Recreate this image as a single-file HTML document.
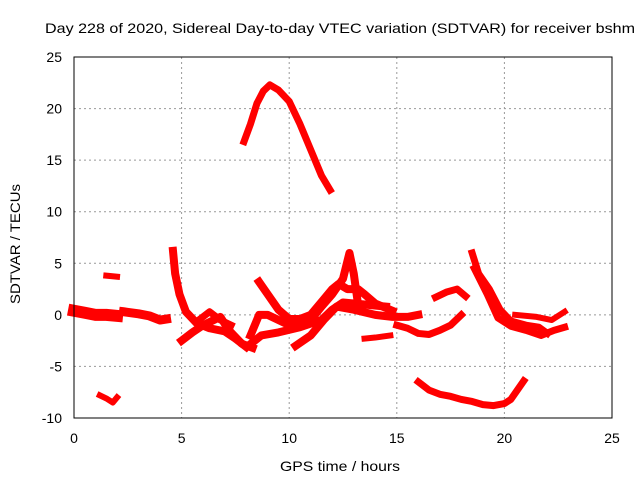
<!DOCTYPE html>
<html><head><meta charset="utf-8"><style>
body{margin:0;background:#fff;}
svg{display:block;font-family:"Liberation Sans",sans-serif;}
</style></head><body>
<svg id="chart" width="640" height="480">
<text x="45" y="33" font-size="14" textLength="590" lengthAdjust="spacingAndGlyphs">Day 228 of 2020, Sidereal Day-to-day VTEC variation (SDTVAR) for receiver bshm</text>
<text x="280" y="471" font-size="14" textLength="120" lengthAdjust="spacingAndGlyphs">GPS time / hours</text>
<text transform="translate(20,244) rotate(-90)" font-size="14" text-anchor="middle" textLength="120" lengthAdjust="spacingAndGlyphs">SDTVAR / TECUs</text>
<g id="grid"></g><g id="marks"></g>
<rect x="74" y="57" width="538" height="361" fill="none" stroke="#000" stroke-width="1"/>
</svg>
<script>
const xTicks=[0,5,10,15,20,25];
const yTicks=[-10,-5,0,5,10,15,20,25];
const arcTop=[[7.9,16.8],[8.2,18.5],[8.5,20.5],[8.8,21.7],[9.1,22.3],[9.5,21.8],[10,20.7],[10.5,18.5],[11,16],[11.5,13.5],[11.9,12.1]];
const lowLeft=[[1.2,-7.8],[1.5,-8.1],[1.8,-8.5],[2.0,-8.0]];
const highLeft=[[1.5,3.8],[2.0,3.7]];
const startA=[[0,0.4],[0.5,0.2],[1,0.0],[1.5,0.0],[2,-0.1]];
const startB=[[2.3,0.3],[3,0.1],[3.5,-0.1],[4,-0.5],[4.3,-0.4]];
const s6=[[4.6,6.2],[4.7,4],[4.9,2],[5.2,0.3],[5.7,-0.8],[6.3,-1.3],[7,-1.6],[7.5,-2.3],[8,-3.1]];
const s7=[[5,-2.5],[5.5,-1.7],[6,-1],[6.5,-0.5],[6.8,-0.2],[7.2,-1.5],[7.8,-2.8],[8.3,-3.2]];
const s8=[[5.8,-0.5],[6.3,0.3],[6.8,-0.5],[7.3,-1.0]];
const s9=[[8.1,-3.0],[8.7,-2.0],[9.5,-1.7],[10.5,-1.2],[11.5,-0.5],[12,0.5],[12.5,1.2],[13.5,1.0],[14.5,0.8]];
const s10=[[8.2,-2.0],[8.6,0],[9,0],[9.5,-0.5],[10,-1],[10.5,-0.8],[11,-0.5],[11.5,0.8],[12,2],[12.5,3.5],[12.8,6],[13,4],[13.2,1]];
const s11=[[8.6,3.2],[9,2],[9.5,0.5],[10,-0.4],[10.5,-0.4],[11,0],[11.6,1.5],[12,2.5],[12.3,3],[12.7,2.5],[13.2,2.5],[13.5,2],[14,1.1],[14.8,0.4]];
const s12=[[10.3,-3.0],[11,-2],[11.6,-0.5],[12.2,0.8],[13,0.5],[14,0],[14.8,-0.2],[15.5,-0.2],[16,0]];
const s13=[[13.5,-2.3],[14,-2.2],[14.7,-2.0]];
const s14=[[15,-1],[15.5,-1.3],[16,-1.8],[16.5,-1.9],[17,-1.5],[17.5,-1.0],[18,0]];
const s15=[[16.8,1.7],[17.3,2.2],[17.8,2.5],[18.2,1.8]];
const s16=[[18.5,6],[18.8,4],[19.3,2.5],[19.8,0.5],[20.3,-0.6],[21,-1.0],[21.6,-1.2],[22,-1.8]];
const s17=[[18.6,4.5],[19.2,2],[19.7,-0.3],[20.3,-1.1],[21,-1.5],[21.7,-2.0],[22.3,-1.5],[22.8,-1.2]];
const s18=[[20.5,0],[21.5,-0.2],[22.2,-0.5],[22.8,0.3]];
const s19=[[16,-6.5],[16.5,-7.3],[17,-7.7],[17.5,-7.9],[18,-8.2],[18.5,-8.4],[19,-8.7],[19.5,-8.8],[20,-8.6],[20.3,-8.2],[20.6,-7.3],[20.9,-6.4]];
const seriesList=[arcTop,lowLeft,highLeft,startA,startB,s6,s7,s8,s9,s10,s11,s12,s13,s14,s15,s16,s17,s18,s19];
const widths=[7,6,6,12,9,8,8,7,8,8,8,8,6,7,7,7,7,6,7];
const X=h=>74+h*538/25, Y=v=>57+(25-v)*361/35;
const NS="http://www.w3.org/2000/svg";
const svg=document.getElementById('chart'),grid=document.getElementById('grid'),marks=document.getElementById('marks');
xTicks.forEach(t=>{
 if(t>0&&t<25){const l=document.createElementNS(NS,'line');l.setAttribute('x1',X(t));l.setAttribute('x2',X(t));l.setAttribute('y1',57);l.setAttribute('y2',418);l.setAttribute('stroke','#999');l.setAttribute('stroke-dasharray','2,3');
 
 grid.appendChild(l);}
 const tx=document.createElementNS(NS,'text');tx.setAttribute('x',X(t));tx.setAttribute('y',443);tx.setAttribute('font-size','14');tx.setAttribute('text-anchor','middle');tx.textContent=t;
 
 svg.appendChild(tx);
});
yTicks.forEach(t=>{
 if(t>-10&&t<25){const l=document.createElementNS(NS,'line');l.setAttribute('x1',74);l.setAttribute('x2',612);l.setAttribute('y1',Y(t));l.setAttribute('y2',Y(t));l.setAttribute('stroke','#999');l.setAttribute('stroke-dasharray','2,3');
 
 grid.appendChild(l);}
 const tx=document.createElementNS(NS,'text');tx.setAttribute('x',62);tx.setAttribute('y',Y(t)+5);tx.setAttribute('font-size','14');tx.setAttribute('text-anchor','end');tx.textContent=t;
 
 svg.appendChild(tx);
});
seriesList.forEach((s,i)=>{
 const p=document.createElementNS(NS,'polyline');
 p.setAttribute('points',s.map(d=>X(d[0])+','+Y(d[1])).join(' '));
 p.setAttribute('fill','none');p.setAttribute('stroke','#f00');p.setAttribute('stroke-width',widths[i]);p.setAttribute('stroke-linejoin','round');p.setAttribute('stroke-linecap','square');
 
 
 marks.appendChild(p);
});
</script>
</body></html>
